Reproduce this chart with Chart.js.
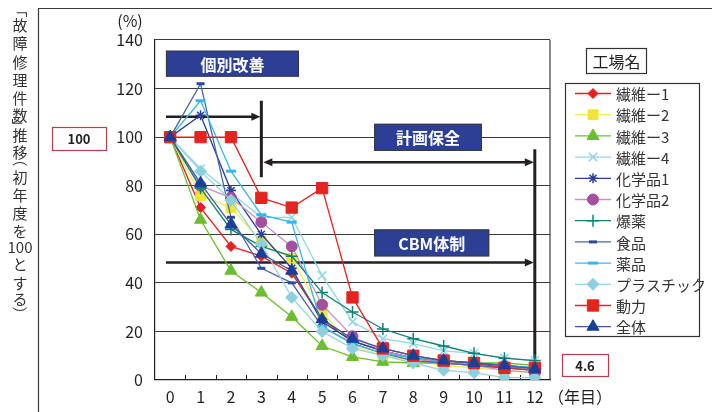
<!DOCTYPE html>
<html><head><meta charset="utf-8">
<script src="https://cdn.jsdelivr.net/npm/chart.js@4/dist/chart.umd.min.js"></script>
<style>html,body{margin:0;padding:0;background:#fff}#wrap{width:712px;height:412px;position:relative}</style>
</head><body><div id="wrap"><canvas id="c" width="712" height="412"></canvas></div>
<script>
// ---- data ----
const years = ['0','1','2','3','4','5','6','7','8','9','10','11','12'];
const seriesNames = ['繊維ー1','繊維ー2','繊維ー3','繊維ー4','化学品1','化学品2','爆薬','食品','薬品','プラスチック','動力','全体'];
const sen1    = [100, 71, 55, 51, 44, 25, 16, 12, 9, 7, 6, 5, 4];
const sen2    = [100, 76, 71, 57, 50, 28, 14, 10, 8, 6, 5, 4, 3];
const sen3    = [100, 66, 45, 36, 26, 14, 9.5, 7.5, 7, 7, 7, 7, 6];
const sen4    = [100, 87, 77, 67, 67, 43, 24, 17, 15, 12, 11, 9, 8];
const kagaku1 = [100, 109, 78, 60, 46, 24, 16, 12, 9, 8, 7, 6, 5];
const kagaku2 = [100, 80, 75, 65, 55, 31, 18, 12, 9, 7, 6, 4, 3];
const bakuyaku= [100, 79, 62, 55, 51, 36, 28, 21, 17, 14, 11, 9, 8];
const shokuhin= [100, 122, 67, 46, 40, 22, 15, 11, 8, 7, 6, 5, 4];
const yakuhin = [100, 115, 86, 68, 65, 22, 15, 11, 9, 8, 7, 6, 5];
const plastic = [100, 86, 74, 56, 34, 20, 13, 10, 7, 4, 3, 1, 1];
const douryoku= [100, 100, 100, 75, 71, 79, 34, 13, 10, 8, 7, 5, 5];
const zentai  = [100, 81, 64, 52, 45, 25, 17, 13, 10, 8, 7, 6, 4.6];
const seriesValues = [sen1, sen2, sen3, sen4, kagaku1, kagaku2, bakuyaku, shokuhin, yakuhin, plastic, douryoku, zentai];
const yTicks = [0, 20, 40, 60, 80, 100, 120, 140];
const startLabel = '100';
const endLabel = '4.6';

// ---- styles ----
const styles = [
  {line:'#e5211d', fill:'#e5211d', pt:'rectRot', r:5, bw:1},
  {line:'#f3ea55', fill:'#f0e43a', pt:'rect', r:7, bw:1},
  {line:'#6cbd2f', fill:'#6cbd2f', pt:'triangle', r:7, bw:1},
  {line:'#93d5e3', fill:'#93d5e3', pt:'crossRot', r:6, bw:1.5},
  {line:'#2a3f99', fill:'#2a3f99', pt:'star', r:5, bw:1.5},
  {line:'#c890c8', fill:'#a5509f', pt:'circle', r:5.5, bw:1},
  {line:'#0f8078', fill:'#0f8078', pt:'cross', r:6, bw:1.5},
  {line:'#4a64b0', fill:'#2a4a9f', pt:'line', r:4, bw:3},
  {line:'#35b8e8', fill:'#35b8e8', pt:'line', r:5, bw:3},
  {line:'#98d3e0', fill:'#8ecfdf', pt:'rectRot', r:6, bw:1},
  {line:'#e52420', fill:'#e52420', pt:'rect', r:8, bw:1},
  {line:'#3d5aa6', fill:'#1a3f96', pt:'triangle', r:7, bw:1}
];

const FONT = '"Noto Sans CJK JP", "Noto Sans", sans-serif';
const INK = '#231f20';

const datasets = seriesNames.map((n, i) => ({
  label: n,
  data: seriesValues[i],
  borderColor: styles[i].line,
  backgroundColor: styles[i].fill,
  borderWidth: 1.3,
  pointStyle: styles[i].pt,
  pointRadius: styles[i].r,
  pointBorderColor: styles[i].fill,
  pointBackgroundColor: styles[i].fill,
  pointBorderWidth: styles[i].bw,
  tension: 0,
  order: seriesNames.length - i
}));

function arrowHead(ctx, x, y, dir) {
  ctx.beginPath();
  ctx.moveTo(x, y);
  ctx.lineTo(x - dir * 9, y - 4);
  ctx.lineTo(x - dir * 9, y + 4);
  ctx.closePath();
  ctx.fill();
}

function blueBox(ctx, x1, y1, x2, y2, text) {
  ctx.save();
  ctx.fillStyle = '#2c3f95';
  ctx.fillRect(x1, y1, x2 - x1, y2 - y1);
  ctx.strokeStyle = '#3a3a3a';
  ctx.lineWidth = 1;
  ctx.strokeRect(x1 + 0.5, y1 + 0.5, x2 - x1 - 1, y2 - y1 - 1);
  ctx.fillStyle = '#fff';
  ctx.font = 'bold 16px ' + FONT;
  ctx.textAlign = 'center';
  ctx.textBaseline = 'middle';
  ctx.fillText(text, (x1 + x2) / 2, (y1 + y2) / 2 + 1);
  ctx.restore();
}

const deco = {
  id: 'deco',
  beforeDatasetsDraw(chart) {
    const {ctx, chartArea: a, scales: {x, y}} = chart;
    const px = v => x.getPixelForValue(v);
    const py = v => y.getPixelForValue(v);
    ctx.save();
    ctx.strokeStyle = '#3a3a3a';
    ctx.lineWidth = 1.2;
    ctx.beginPath();
    ctx.moveTo(a.right, a.top); ctx.lineTo(a.right, a.bottom);
    ctx.stroke();
    ctx.strokeStyle = INK;
    ctx.lineWidth = 1;
    for (let i = 1; i < years.length; i++) {
      const xx = Math.round((x.getPixelForTick(i - 1) + x.getPixelForTick(i)) / 2) + 0.5;
      ctx.beginPath(); ctx.moveTo(xx, a.bottom); ctx.lineTo(xx, a.bottom - 5); ctx.stroke();
    }
    ctx.strokeStyle = INK; ctx.fillStyle = INK;
    ctx.lineWidth = 2.5;
    const xs = px(-0.14), x3 = px(3), x12 = px(12);
    let yy = py(108.4);
    ctx.beginPath(); ctx.moveTo(xs, yy); ctx.lineTo(x3 - 6, yy); ctx.stroke();
    arrowHead(ctx, x3 - 1, yy, 1);
    ctx.lineWidth = 3;
    ctx.beginPath(); ctx.moveTo(x3, py(115)); ctx.lineTo(x3, py(83.5)); ctx.stroke();
    ctx.lineWidth = 2.5;
    yy = py(89.7);
    ctx.beginPath(); ctx.moveTo(x3 + 6, yy); ctx.lineTo(x12 - 6, yy); ctx.stroke();
    arrowHead(ctx, x3 + 2, yy, -1);
    arrowHead(ctx, x12 - 1, yy, 1);
    ctx.lineWidth = 3;
    ctx.beginPath(); ctx.moveTo(x12, py(95)); ctx.lineTo(x12, py(0)); ctx.stroke();
    ctx.lineWidth = 2.5;
    yy = py(48.4);
    ctx.beginPath(); ctx.moveTo(xs, yy); ctx.lineTo(x12 - 6, yy); ctx.stroke();
    arrowHead(ctx, x12 - 1, yy, 1);
    blueBox(ctx, px(-0.14), py(135.6), px(4.24), py(124.9), '個別改善');
    blueBox(ctx, px(6.71), py(105.5), px(10.26), py(94.3), '計画保全');
    blueBox(ctx, px(6.71), py(62), px(10.5), py(50.9), 'CBM体制');
    ctx.restore();
  },
  afterDraw(chart) {
    const {ctx} = chart;
    ctx.save();
    ctx.strokeStyle = '#3a3a3a';
    ctx.lineWidth = 1.2;
    ctx.beginPath();
    ctx.moveTo(38.5, 412); ctx.lineTo(38.5, 8.5); ctx.lineTo(712, 8.5);
    ctx.stroke();
    ctx.fillStyle = INK;
    ctx.font = '16px ' + FONT;
    ctx.textBaseline = 'middle';
    ctx.textAlign = 'center';
    ctx.fillText('(%)', 130, 21);
    ctx.textAlign = 'left';
    ctx.fillText('（年目）', 548, 397);
    // vertical y title: rotated brackets (1 = opening, 2 = closing)
    const vt = [['「',10,1],['故',25],['障',43],['修',62],['理',80],['件',98],['数',115],['」',126,2],['推',135],['移',152],
      ['（',159,1],['初',177],['年',195],['度',213],['を',231],['100',247],['と',264],['す',283],['る',299],['）',314,2]];
    ctx.font = '15px ' + FONT;
    ctx.textAlign = 'center';
    ctx.fillStyle = '#333';
    vt.forEach(([c, yy, rot]) => {
      if (rot) {
        ctx.save();
        ctx.translate(20, yy);
        ctx.rotate(Math.PI / 2);
        ctx.fillText(c, 0, 0);
        ctx.restore();
      } else {
        ctx.fillText(c, 20, yy);
      }
    });
    const valBox = (x1, y1, x2, y2, t) => {
      ctx.fillStyle = '#fff';
      ctx.fillRect(x1, y1, x2 - x1, y2 - y1);
      ctx.strokeStyle = '#b8404a';
      ctx.lineWidth = 1.2;
      ctx.strokeRect(x1 + 0.5, y1 + 0.5, x2 - x1, y2 - y1);
      ctx.fillStyle = INK;
      ctx.font = 'bold 13px ' + FONT;
      ctx.textAlign = 'center';
      ctx.fillText(t, (x1 + x2) / 2, (y1 + y2) / 2 + 1);
    };
    valBox(52, 127, 106, 150, startLabel);
    valBox(562, 354, 608, 376, endLabel);
    ctx.strokeStyle = '#333';
    ctx.lineWidth = 1.2;
    ctx.strokeRect(586.5, 48.5, 60, 25);
    ctx.fillStyle = INK;
    ctx.font = '16px ' + FONT;
    ctx.textAlign = 'center';
    ctx.fillText('工場名', 616.5, 61.5);
    ctx.strokeRect(565.5, 83.5, 134, 253);
    ctx.textAlign = 'left';
    ctx.font = '15px ' + FONT;
    chart.data.datasets.forEach((ds, i) => {
      const yy = 93.5 + i * 21.2;
      ctx.strokeStyle = ds.borderColor;
      ctx.lineWidth = 1.3;
      ctx.beginPath(); ctx.moveTo(575, yy); ctx.lineTo(611, yy); ctx.stroke();
      ctx.fillStyle = ds.pointBackgroundColor;
      ctx.strokeStyle = ds.pointBorderColor;
      ctx.lineWidth = ds.pointBorderWidth;
      Chart.helpers.drawPoint(ctx, {pointStyle: ds.pointStyle, rotation: 0, radius: ds.pointRadius, borderWidth: ds.pointBorderWidth}, 593, yy);
      ctx.fillStyle = '#333';
      ctx.fillText(ds.label, 616, yy + 1);
    });
    ctx.restore();
  }
};

new Chart(document.getElementById('c'), {
  type: 'line',
  data: { labels: years, datasets },
  options: {
    responsive: false,
    animation: false,
    devicePixelRatio: 1,
    layout: { padding: { left: 105, right: 162, top: 40, bottom: 2 } },
    plugins: { legend: { display: false }, tooltip: { enabled: false } },
    scales: {
      x: {
        type: 'category',
        offset: true,
        grid: { display: false, drawTicks: false },
        border: { display: true, color: INK, width: 1.2 },
        ticks: { color: INK, font: { family: FONT, size: 16 }, padding: 7, maxRotation: 0, autoSkip: false },
        afterFit: s => { s.height = 30; }
      },
      y: {
        min: 0, max: 140,
        afterBuildTicks: s => { s.ticks = yTicks.map(v => ({ value: v })); },
        grid: { color: '#3a3a3a', lineWidth: 1.1, drawTicks: false },
        border: { display: true, color: INK, width: 1.2 },
        ticks: { color: INK, font: { family: FONT, size: 16 }, padding: 12 },
        afterFit: s => { s.width = 50; }
      }
    }
  },
  plugins: [deco]
});
</script>
</body></html>
